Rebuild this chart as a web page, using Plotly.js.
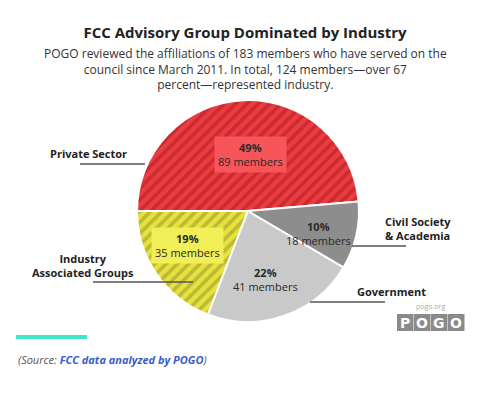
<!DOCTYPE html>
<html>
<head>
<meta charset="utf-8">
<script src="https://cdn.plot.ly/plotly-3.0.1.min.js"></script>
<style>html,body{margin:0;padding:0;background:#fff}#chart{width:500px;height:397px}</style>
</head>
<body>
<div id="chart"></div>
<script>
// ---- data ----
const categories = ["Private Sector", "Industry Associated Groups", "Government", "Civil Society & Academia"];
const members = [89, 35, 41, 18];
const percentLabels = ["49%", "19%", "22%", "10%"];
const outsideLabels = ["Private Sector", "Industry<br>Associated Groups", "Government", "Civil Society<br>& Academia"];

// ---- styles ----
const sliceColors = ["#ea3d42", "#e6e33e", "#c9c9c9", "#8d8d8d"];
const stripeColors = ["#cc2a30", "#bdb935", "#c9c9c9", "#8d8d8d"];
const stripeShapes = ["/", "/", "", ""];
const boxColors = ["#f6555a", "#f1ee58", "rgba(0,0,0,0)", "rgba(0,0,0,0)"];
const labelRadius = [0.51, 0.63, 0.64, 0.67];

const W = 500, H = 397;
const dom = {x: [0.274, 0.718], y: [0.189, 0.748]};
const cx = (dom.x[0] + dom.x[1]) / 2 * W;
const cy = (1 - (dom.y[0] + dom.y[1]) / 2) * H;
const R = (dom.x[1] - dom.x[0]) / 2 * W;

const total = members.reduce((a, b) => a + b, 0);
const annotations = [];
let cum = 0;
members.forEach((v, i) => {
  const mid = (cum + v / 2) / total * 2 * Math.PI;
  cum += v;
  const px = cx + labelRadius[i] * R * Math.cos(mid);
  const py = cy - labelRadius[i] * R * Math.sin(mid);
  annotations.push({
    xref: "paper", yref: "paper", x: px / W, y: 1 - py / H,
    xanchor: "center", yanchor: "middle", showarrow: false,
    text: "<b>" + percentLabels[i] + "</b><br>" + v + " members",
    font: {family: "Open Sans, sans-serif", size: 11, color: "#2a2a2a"},
    bgcolor: boxColors[i], borderpad: 3
  });
});

function P(x, y) { return {x: x / W, y: 1 - y / H}; }
function addText(x, y, text, opts) {
  const p = P(x, y);
  annotations.push(Object.assign({
    xref: "paper", yref: "paper", x: p.x, y: p.y, showarrow: false,
    text: text, xanchor: "center", yanchor: "middle",
    font: {family: "Open Sans, sans-serif", size: 11, color: "#222"}
  }, opts || {}));
}

// outside labels
addText(88, 154, "<b>" + outsideLabels[0] + "</b>");
addText(83, 265, "<b>" + outsideLabels[1] + "</b>", {align: "center"});
addText(355, 291, "<b>" + outsideLabels[2] + "</b>", {xanchor: "left"});
addText(383, 229, "<b>" + outsideLabels[3] + "</b>", {xanchor: "left", align: "left"});

// subtitle
addText(245, 69, "POGO reviewed the affiliations of 183 members who have served on the<br>council since March 2011. In total, 124 members\u2014over 67<br>percent\u2014represented industry.",
  {font: {family: "Open Sans, sans-serif", size: 12, color: "#333"}, align: "center"});

// source
addText(16, 359, "<i>(Source: <b><span style='color:#3a5ccc'>FCC data analyzed by POGO</span></b>)</i>",
  {xanchor: "left", font: {family: "Open Sans, sans-serif", size: 11, color: "#555"}});

// logo
addText(430, 306, "pogo.org", {font: {family: "Open Sans, sans-serif", size: 7, color: "#aaa"}});
const shapes = [];
const logoLetters = ["P", "O", "G", "O"];
logoLetters.forEach((L, i) => {
  const x0 = 397 + i * 17;
  const a = P(x0, 314), b = P(x0 + 16.5, 331);
  shapes.push({type: "rect", xref: "paper", yref: "paper", x0: a.x, y0: b.y, x1: b.x, y1: a.y,
    fillcolor: "#8a8a8a", line: {width: 0}});
  addText(x0 + 8.2, 322.5, "<b>" + L + "</b>", {font: {family: "DejaVu Sans, sans-serif", size: 14, color: "#fff"}});
});

// leader lines
function hline(x0, x1, y) {
  const a = P(x0, y), b = P(x1, y);
  shapes.push({type: "line", xref: "paper", yref: "paper", x0: a.x, y0: a.y, x1: b.x, y1: b.y,
    line: {color: "#555", width: 1.5}});
}
hline(80, 145, 164);
hline(93, 193, 282);
hline(352, 406, 246);
hline(310, 385, 302);

// teal bar
{
  const a = P(16, 335), b = P(87, 339);
  shapes.push({type: "rect", xref: "paper", yref: "paper", x0: a.x, y0: b.y, x1: b.x, y1: a.y,
    fillcolor: "#3fe6c9", line: {width: 0}});
}

const trace = {
  type: "pie",
  labels: categories,
  values: members,
  sort: false,
  direction: "counterclockwise",
  rotation: -90,
  textinfo: "none",
  hoverinfo: "none",
  showlegend: false,
  domain: dom,
  marker: {
    colors: sliceColors,
    line: {color: "#ffffff", width: 2},
    pattern: {shape: stripeShapes, fillmode: "replace", bgcolor: sliceColors, fgcolor: stripeColors, size: 8, solidity: 0.45}
  }
};

const layout = {
  width: W, height: H,
  margin: {l: 0, r: 0, t: 0, b: 0},
  paper_bgcolor: "#fff",
  title: {
    text: "<b>FCC Advisory Group Dominated by Industry</b>",
    font: {family: "Open Sans, sans-serif", size: 15, color: "#222"},
    x: 0.49, xanchor: "center", y: 1 - 33 / H, yanchor: "middle", yref: "paper"
  },
  showlegend: false,
  annotations: annotations,
  shapes: shapes
};

Plotly.newPlot("chart", [trace], layout, {displayModeBar: false, staticPlot: true});
</script>
</body>
</html>
